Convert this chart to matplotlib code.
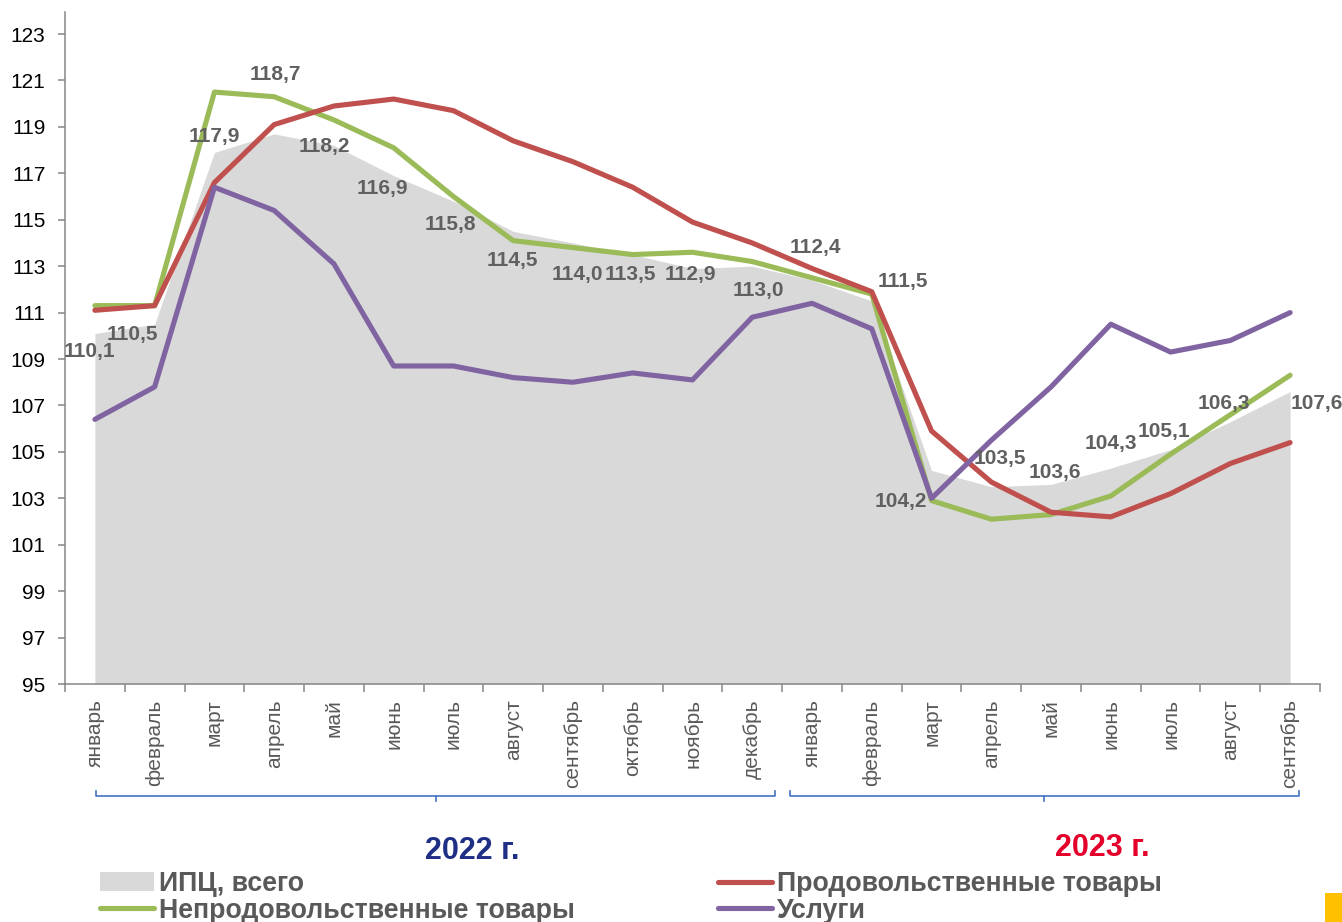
import numpy as np
import matplotlib
matplotlib.use('Agg')
import matplotlib.pyplot as plt
from matplotlib.lines import Line2D
from matplotlib.patches import Patch, Rectangle

plt.rcParams['font.family'] = ['Liberation Sans', 'DejaVu Sans']

# данные
months = ['январь', 'февраль', 'март', 'апрель', 'май', 'июнь', 'июль', 'август',
          'сентябрь', 'октябрь', 'ноябрь', 'декабрь',
          'январь', 'февраль', 'март', 'апрель', 'май', 'июнь', 'июль', 'август', 'сентябрь']

cpi_total = [110.1, 110.5, 117.9, 118.7, 118.2, 116.9, 115.8, 114.5, 114.0, 113.5, 112.9, 113.0,
             112.4, 111.5, 104.2, 103.5, 103.6, 104.3, 105.1, 106.3, 107.6]
food = [111.1, 111.3, 116.6, 119.1, 119.9, 120.2, 119.7, 118.4, 117.5, 116.4, 114.9, 114.0,
        112.9, 111.9, 105.9, 103.7, 102.4, 102.2, 103.2, 104.5, 105.4]
non_food = [111.3, 111.3, 120.5, 120.3, 119.3, 118.1, 116.0, 114.1, 113.8, 113.5, 113.6, 113.2,
            112.5, 111.8, 102.9, 102.1, 102.3, 103.1, 104.9, 106.6, 108.3]
services = [106.4, 107.8, 116.4, 115.4, 113.1, 108.7, 108.7, 108.2, 108.0, 108.4, 108.1, 110.8,
            111.4, 110.3, 103.0, 105.5, 107.8, 110.5, 109.3, 109.8, 111.0]

# смещения подписей (в пикселях)
label_offsets = [(-5, -18), (-22, -10), (0, 16), (1, 59), (-10, -1), (-11, -13), (-3, -23),
                 (-1, -29), (4, -32), (-2, -20), (-2, -6), (6, -24), (3, 33), (31, 19),
                 (-31, -31), (9, 28), (4, 12), (0, 25), (-7, 18), (-6, 18), (27, -12)]

W, H = 1342, 922
fig = plt.figure(figsize=(W / 100, H / 100), dpi=100)
ax = fig.add_axes([65 / W, 1 - 684 / H, (1320 - 65) / W, (684 - 12) / H])

x = np.arange(len(months))
ax.fill_between(x, 95, cpi_total, color='#D9D9D9', linewidth=0, zorder=1)
lw = 3.7
ax.plot(x, non_food, color='#9BBB59', lw=lw, solid_capstyle='round', solid_joinstyle='round', zorder=3)
ax.plot(x, food, color='#C0504D', lw=lw, solid_capstyle='round', solid_joinstyle='round', zorder=3)
ax.plot(x, services, color='#8064A2', lw=lw, solid_capstyle='round', solid_joinstyle='round', zorder=3)

for i, v in enumerate(cpi_total):
    ax.annotate(('%.1f' % v).replace('.', ','), (x[i], v), xytext=label_offsets[i],
                textcoords='offset pixels', ha='center', va='center',
                fontsize=15, fontweight='bold', color='#606060', zorder=4)

ax.set_xlim(-0.5, len(months) - 0.5)
ax.set_ylim(95, 123.95)
ax.set_yticks(np.arange(95, 124, 2))
ax.set_xticks(x)
ax.set_xticklabels(months, rotation=90, fontsize=15, color='#595959')
ax.set_xticks(np.arange(-0.5, len(months)), minor=True)
ax.tick_params(axis='x', which='major', length=0, pad=11)
ax.tick_params(axis='x', which='minor', length=6, width=1.1, color='#868686', direction='out')
ax.tick_params(axis='y', length=5, width=1.1, color='#868686', pad=9, labelsize=15)

for s in ['top', 'right']:
    ax.spines[s].set_visible(False)
for s in ['left', 'bottom']:
    ax.spines[s].set_color('#868686')
    ax.spines[s].set_linewidth(1.1)


def fx(px):
    return px / W


def fy(py):
    return 1 - py / H


# скобки под подписями
bracket_color = '#4472C4'
for left, mid, right in [(96, 436, 775), (790, 1044, 1299)]:
    fig.add_artist(Line2D([fx(left), fx(left), fx(right), fx(right)],
                          [fy(791), fy(796), fy(796), fy(791)], color=bracket_color, lw=1.2))
    fig.add_artist(Line2D([fx(mid), fx(mid)], [fy(796), fy(801)], color=bracket_color, lw=1.2))

fig.text(fx(472), fy(851), '2022 г.', ha='center', va='center', fontsize=22,
         fontweight='bold', color='#1F2F86')
fig.text(fx(1102), fy(848), '2023 г.', ha='center', va='center', fontsize=22,
         fontweight='bold', color='#E4002B')

# легенда
h_cpi = Patch(facecolor='#D9D9D9', edgecolor='none')
h_nf = Line2D([], [], color='#9BBB59', lw=lw, solid_capstyle='round')
h_food = Line2D([], [], color='#C0504D', lw=lw, solid_capstyle='round')
h_serv = Line2D([], [], color='#8064A2', lw=lw, solid_capstyle='round')
leg_kw = dict(frameon=False, handlelength=2.0, handletextpad=0.2, labelspacing=0.02,
              borderaxespad=0, borderpad=0, labelcolor='#595959',
              prop={'weight': 'bold', 'size': 19.3})
leg1 = fig.legend([h_cpi, h_nf], ['ИПЦ, всего', 'Непродовольственные товары'],
                  loc='upper left', bbox_to_anchor=(fx(100), fy(871)), **leg_kw)
leg2 = fig.legend([h_food, h_serv], ['Продовольственные товары', 'Услуги'],
                  loc='upper left', bbox_to_anchor=(fx(718), fy(871)), **leg_kw)

fig.add_artist(Rectangle((fx(1325), 0), fx(1342) - fx(1325), (922 - 893) / H,
                         transform=fig.transFigure, color='#FFC000', lw=0))

fig.savefig('out.png', dpi=100)
